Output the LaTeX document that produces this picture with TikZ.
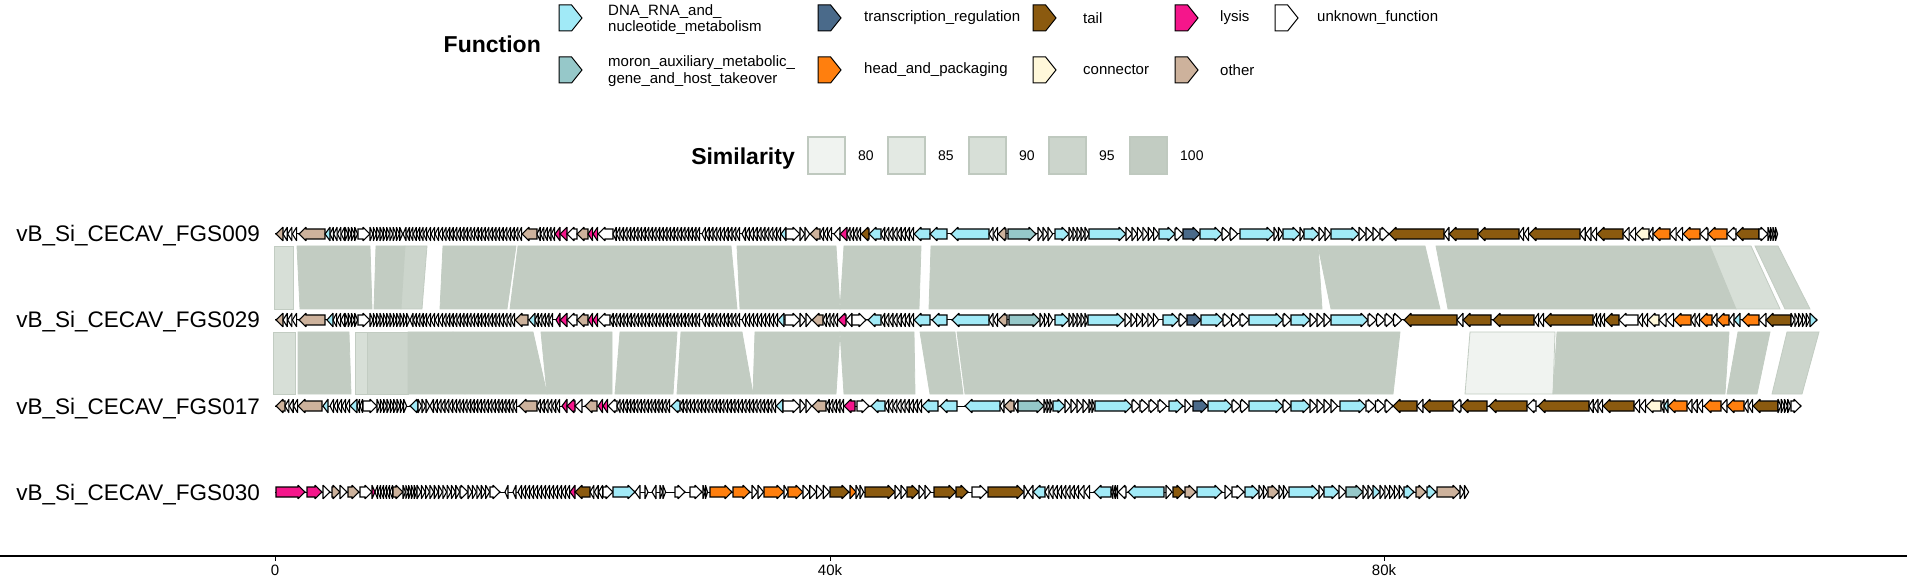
\documentclass[tikz,border=0pt]{standalone}
\usepackage{fontspec}
\setmainfont{Liberation Sans}
\definecolor{gD}{HTML}{A1EAF7}
\definecolor{gM}{HTML}{96C8C9}
\definecolor{gT}{HTML}{4A6A8A}
\definecolor{gH}{HTML}{FF7F0E}
\definecolor{gL}{HTML}{8B5A0F}
\definecolor{gC}{HTML}{FFF8DA}
\definecolor{gY}{HTML}{F5168B}
\definecolor{gO}{HTML}{CDB29C}
\definecolor{gU}{HTML}{FFFFFF}
\definecolor{s100}{HTML}{C2CCC2}
\definecolor{s95}{HTML}{CCD5CC}
\definecolor{s90}{HTML}{D7DFD7}
\definecolor{s85}{HTML}{E3E9E3}
\definecolor{s80}{HTML}{F0F3F0}
\definecolor{sB}{HTML}{BFC9BF}
\tikzset{
  gene/.style={draw=black,line width=1.1pt,line join=miter,miter limit=2.5},
  band/.style={draw=s100,line width=0.8pt},
  lgkey/.style={draw=black,line width=1pt},
  lgtxt/.style={anchor=west,font=\fontsize{15}{16.5}\selectfont,align=left,inner sep=0pt},
  title/.style={anchor=base east,font=\fontsize{23}{23}\selectfont\bfseries,inner sep=0pt},
  glabel/.style={anchor=base east,font=\fontsize{22.5}{22.5}\selectfont,inner sep=0pt},
  axlab/.style={font=\fontsize{15}{15}\selectfont,inner sep=0pt},
  simbox/.style={draw=sB,line width=1.5pt},
  backbone/.style={draw=black,line width=1pt}
}
\newcommand\ghl{7}
\newcommand\gbh{5}
\newcommand\gah{6.8}
\newcommand\gn[5]{%
  \pgfmathsetmacro\gA{#1}\pgfmathsetmacro\gB{#2}%
  \pgfmathsetmacro\gH{min(\ghl,\gB-\gA)}%
  \pgfmathsetmacro\gP{\gB-\gH}\pgfmathsetmacro\gQ{\gA+\gH}%
  \ifnum#4>0
    \draw[gene,fill=#5] (\gA,#3-\gbh) -- (\gP,#3-\gbh) -- (\gP,#3-\gah) -- (\gB,#3) -- (\gP,#3+\gah) -- (\gP,#3+\gbh) -- (\gA,#3+\gbh) -- cycle;
  \else
    \draw[gene,fill=#5] (\gB,#3-\gbh) -- (\gQ,#3-\gbh) -- (\gQ,#3-\gah) -- (\gA,#3) -- (\gQ,#3+\gah) -- (\gQ,#3+\gbh) -- (\gB,#3+\gbh) -- cycle;
  \fi}
\newcommand\grun[6]{%
  \pgfmathsetmacro\rw{(#2-#1)/#3}%
  \foreach \ri in {1,...,#3}{%
    \pgfmathsetmacro\ra{#1+(\ri-1)*\rw}%
    \pgfmathsetmacro\rb{\ra+\rw-0.4*(#3>1)}%
    \gn{\ra}{\rb}{#6}{#4}{#5}}}
\newcommand\track[2]{%
  \foreach \xa/\xb/\dd/\cc/\nn in {#2}{\grun{\xa}{\xb}{\nn}{\dd}{g\cc}{#1}}}
\newcommand\bands[3]{%
  \foreach \ta/\tb/\ba/\bb/\sc in {#3}{%
    \filldraw[band,fill=\sc] (\ta,#1) -- (\tb,#1) -- (\bb,#2) -- (\ba,#2) -- cycle;}}
\newcommand\lkey[3]{%
  \draw[lgkey,fill=#3] (#1,#2-13) -- (#1+12.6,#2-13) -- (#1+23,#2) -- (#1+12.6,#2+13) -- (#1,#2+13) -- cycle;}
\begin{document}
\begin{tikzpicture}[x=1pt,y=-1pt]
\useasboundingbox (0,0) rectangle (1907,577);
% ---------------- Function legend
\node[title] (fn) at (541,53) {Function};
\lkey{559}{18}{gD}
\node[lgtxt] (l1) at (608,19.5) {DNA\_RNA\_and\_\\nucleotide\_metabolism};
\lkey{559}{70}{gM}
\node[lgtxt] (l2) at (608,71) {moron\_auxiliary\_metabolic\_\\gene\_and\_host\_takeover};
\lkey{818}{18}{gT}
\node[lgtxt] (l3) at (864,18) {transcription\_regulation};
\lkey{818}{70}{gH}
\node[lgtxt] (l4) at (864,70) {head\_and\_packaging};
\lkey{1033}{18}{gL}
\node[lgtxt] (l5) at (1083,18) {tail};
\lkey{1033}{70}{gC}
\node[lgtxt] (l6) at (1083,70) {connector};
\lkey{1175}{18}{gY}
\node[lgtxt] (l7) at (1220,18) {lysis};
\lkey{1175}{70}{gO}
\node[lgtxt] (l8) at (1220,70) {other};
\lkey{1275}{18}{gU}
\node[lgtxt] (l9) at (1317,18) {unknown\_function};
% ---------------- Similarity legend
\node[title] (sim) at (795,165) {Similarity};
\foreach \bx/\sc/\lab in {808/s80/80,888/s85/85,969/s90/90,1049/s95/95,1130/s100/100}{
  \filldraw[simbox,fill=\sc] (\bx,137) rectangle (\bx+37,174);
  \node[anchor=west,font=\fontsize{14}{14}\selectfont,inner sep=0pt] (sl\lab) at (\bx+50,156) {\lab};}
% ---------------- similarity bands 1-2
\bands{246}{309}{274/293/274/293/s90,297/370/300/372/s100,376/405/374/401/s100,405/427/401/422/s95,
 443/516/440/507/s100,518/731/510/737/s100,737/836/740/840/s100,844/921/840/919/s100,
 931/1318/929/1322/s100,1318/1425/1331/1440/s100,1436/1710/1448/1736/s100,
 1710/1751/1736/1780/s90,1755/1778/1785/1810/s95}
% ---------------- similarity bands 2-3
\bands{332}{394}{273/295/273/295/s90,298/349/298/351/s100,355/367/355/367/s90,367/408/367/408/s95,
 408/453/408/465/s100,453/533/465/547/s100,541/612/547/612/s100,620/677/615/673/s100,
 681/742/677/753/s100,755/840/753/836/s100,840/914/844/915/s100,920/955/930/963/s100,
 957/1400/965/1393/s100,1470/1555/1465/1553/s80,1557/1729/1553/1725/s100,
 1738/1770/1727/1757/s100,1787/1819/1772/1802/s95}
% ---------------- genome labels
\node[glabel] (n1) at (260,242) {vB\_Si\_CECAV\_FGS009};
\node[glabel] (n2) at (260,328) {vB\_Si\_CECAV\_FGS029};
\node[glabel] (n3) at (260,414) {vB\_Si\_CECAV\_FGS017};
\node[glabel] (n4) at (260,500) {vB\_Si\_CECAV\_FGS030};
% ---------------- backbones
\draw[backbone] (275,234) -- (1778,234);
\draw[backbone] (275,320) -- (1817,320);
\draw[backbone] (275,406) -- (1801,406);
\draw[backbone] (275,492) -- (1469,492);
% ---------------- track 1
\track{234}{276/283/-1/O/1,283/297/-1/U/3,299/325/-1/O/1,325/330/-1/D/1,330/345/-1/U/4,345/358/1/U/4,
358/370/1/U/1,370/380/1/U/3,380/403/1/U/7,403/427/-1/U/7,427/443/-1/U/4,443/500/-1/U/16,500/522/-1/U/6,
522/537/-1/O/1,537/555/-1/U/5,555/560/-1/Y/1,560/567/-1/Y/1,567/577/-1/U/1,577/588/-1/O/1,588/598/-1/Y/2,
598/613/-1/U/1,613/700/-1/U/24,702/740/-1/U/10,742/781/-1/U/10,781/786/-1/D/1,786/800/1/U/1,800/810/1/U/2,
810/820/-1/O/1,820/832/-1/U/3,834/840/-1/U/1,840/847/-1/Y/1,847/861/-1/U/4,861/869/-1/L/1,869/881/-1/D/1,
881/914/-1/U/8,914/930/-1/D/1,930/947/-1/D/1,951/989/-1/D/1,989/998/-1/U/2,998/1006/-1/O/1,1008/1036/1/M/1,
1038/1053/1/U/3,1055/1069/1/D/1,1069/1085/1/U/4,1085/1089/1/U/1,1089/1126/1/D/1,1126/1132/1/U/1,
1132/1159/1/U/5,1159/1175/1/D/1,1175/1183/1/U/1,1183/1200/1/T/1,1200/1222/1/D/1,1222/1238/1/U/2,
1240/1274/1/D/1,1274/1283/1/U/2,1283/1300/1/D/1,1300/1304/1/U/1,1304/1319/1/D/1,1319/1331/1/U/2,
1331/1359/1/D/1,1359/1380/1/U/3,1380/1389/1/U/1,1389/1444/-1/L/1,1444/1449/-1/U/1,1449/1478/-1/L/1,
1478/1519/-1/L/1,1519/1529/-1/U/2,1529/1580/-1/L/1,1580/1597/-1/U/3,1597/1623/-1/L/1,1623/1636/-1/U/2,
1636/1649/-1/C/1,1649/1653/-1/U/1,1653/1670/-1/H/1,1670/1683/-1/U/2,1683/1700/-1/H/1,1700/1708/-1/U/1,
1708/1727/-1/H/1,1727/1736/-1/U/1,1736/1759/-1/L/1,1759/1768/1/U/1,1768/1778/1/U/4}
% ---------------- track 2
\track{320}{276/283/-1/O/1,283/297/-1/U/3,299/325/-1/O/1,327/333/-1/D/1,333/345/-1/U/3,345/358/1/U/4,
358/370/1/U/1,370/380/1/U/3,380/410/1/U/9,410/427/-1/U/5,427/443/-1/U/4,443/500/-1/U/16,500/515/-1/U/4,
515/528/-1/O/1,529/535/-1/D/1,535/553/-1/U/5,556/560/-1/Y/1,560/567/-1/Y/1,567/577/-1/U/1,577/588/-1/O/1,
588/598/-1/Y/2,598/610/-1/U/1,610/700/-1/U/25,702/740/-1/U/10,742/778/-1/U/9,778/784/-1/D/1,785/800/1/U/1,
800/812/1/U/2,812/823/-1/O/1,823/838/-1/U/4,838/846/-1/Y/1,846/852/-1/U/1,852/866/1/U/1,868/881/-1/D/1,
881/914/-1/U/8,914/930/-1/D/1,932/947/-1/D/1,952/989/-1/D/1,989/998/-1/U/2,998/1007/-1/O/1,1009/1040/1/M/1,
1040/1053/1/U/3,1055/1069/1/D/1,1069/1085/1/U/4,1085/1088/1/U/1,1088/1124/1/D/1,1125/1131/1/U/1,
1131/1159/1/U/5,1163/1179/1/D/1,1179/1187/1/U/1,1187/1201/1/T/1,1201/1223/1/D/1,1223/1240/1/U/2,
1240/1249/1/U/1,1249/1283/1/D/1,1283/1291/1/U/1,1291/1310/1/D/1,1310/1331/1/U/3,1331/1368/1/D/1,
1368/1402/1/U/4,1404/1457/-1/L/1,1457/1463/-1/U/1,1463/1491/-1/L/1,1493/1534/-1/L/1,1534/1544/-1/U/2,
1544/1593/-1/L/1,1593/1605/-1/U/3,1605/1619/-1/L/1,1619/1638/-1/U/1,1638/1648/-1/U/2,1648/1659/-1/C/1,
1659/1674/-1/U/2,1674/1691/-1/H/1,1691/1700/-1/U/2,1700/1712/-1/H/1,1712/1717/-1/U/1,1717/1729/-1/H/1,
1729/1734/-1/U/1,1734/1740/-1/D/1,1742/1759/-1/H/1,1759/1766/-1/U/1,1766/1791/-1/L/1,1791/1810/1/U/5,
1810/1817/1/D/1}
% ---------------- track 3
\track{406}{276/285/-1/O/1,285/298/-1/U/3,298/322/-1/O/1,323/328/-1/D/1,330/350/-1/U/5,350/357/-1/D/1,
357/363/-1/U/2,363/377/1/U/1,377/407/1/U/9,410/418/-1/D/1,418/430/1/U/3,430/457/-1/U/7,457/517/-1/U/17,
519/537/-1/O/1,537/560/-1/U/6,562/567/-1/Y/1,567/575/-1/Y/1,575/582/-1/U/1,585/597/-1/O/1,598/608/-1/Y/2,
608/617/-1/U/1,617/670/-1/U/15,671/680/-1/D/1,680/776/-1/U/26,776/783/-1/D/1,783/800/1/U/1,800/812/1/U/2,
812/826/-1/O/1,826/844/-1/U/5,844/855/-1/Y/1,857/869/1/U/1,871/885/-1/D/1,885/922/-1/U/9,922/938/-1/D/1,
940/957/-1/D/1,965/1000/-1/D/1,1000/1004/-1/U/1,1004/1014/-1/O/1,1014/1018/-1/U/1,1018/1044/1/M/1,
1044/1053/1/U/3,1053/1065/1/D/1,1065/1089/1/U/4,1089/1095/1/U/2,1095/1132/1/D/1,1132/1140/1/U/1,
1140/1167/1/U/3,1169/1183/1/D/1,1185/1191/1/U/1,1193/1208/1/T/1,1208/1232/1/D/1,1232/1249/1/U/2,
1249/1283/1/D/1,1283/1291/1/U/1,1291/1310/1/D/1,1310/1338/1/U/4,1340/1366/1/D/1,1366/1385/1/U/2,
1385/1393/1/U/1,1393/1417/-1/L/1,1417/1423/-1/U/1,1423/1453/-1/L/1,1453/1461/-1/U/1,1461/1487/-1/L/1,
1489/1527/-1/L/1,1527/1536/-1/U/1,1538/1589/-1/L/1,1589/1603/-1/U/3,1603/1634/-1/L/1,1634/1646/-1/U/2,
1646/1661/-1/C/1,1661/1664/-1/U/1,1664/1668/-1/D/1,1668/1687/-1/H/1,1687/1703/-1/U/3,1704/1721/-1/H/1,
1721/1727/-1/U/1,1727/1744/-1/H/1,1744/1753/-1/U/2,1753/1778/-1/L/1,1778/1791/1/U/4,1791/1801/1/U/1}
% ---------------- track 4
\track{492}{276/305/1/Y/1,307/322/1/Y/1,323/330/1/U/1,332/340/1/O/1,340/347/1/U/1,348/359/1/O/1,
360/372/1/U/1,372/375/1/Y/1,375/393/-1/U/6,393/403/1/O/1,403/417/1/U/5,417/460/1/U/10,460/468/1/U/1,
468/490/1/U/5,490/500/1/U/1,505/508/-1/U/1,513/516/-1/U/1,518/570/-1/U/13,570/575/-1/Y/1,575/590/-1/L/1,
590/603/-1/U/3,603/613/1/U/1,613/635/1/D/1,635/640/-1/U/1,645/648/1/U/1,652/656/-1/U/1,660/666/1/U/2,
675/685/1/U/1,690/702/1/U/1,703/708/1/U/2,710/732/1/H/1,733/750/1/H/1,752/764/1/U/2,764/784/1/H/1,
784/788/1/U/1,788/803/1/H/1,803/830/1/U/4,830/849/1/L/1,850/856/1/H/1,856/864/1/U/2,865/895/1/L/1,
895/907/1/U/2,907/919/1/L/1,919/931/1/U/2,934/956/1/L/1,956/968/1/L/1,972/987/1/U/1,988/1024/1/L/1,
1024/1028/1/U/1,1028/1033/-1/U/1,1033/1045/-1/D/1,1045/1079/-1/U/8,1079/1090/-1/U/2,1094/1111/-1/D/1,
1111/1118/-1/U/3,1118/1126/-1/U/1,1128/1164/-1/D/1,1166/1172/1/U/1,1173/1184/1/L/1,1185/1196/1/O/1,
1197/1222/1/D/1,1225/1232/1/U/1,1232/1244/1/U/1,1245/1259/1/D/1,1259/1268/1/U/2,1268/1279/1/O/1,
1279/1288/1/U/2,1289/1319/1/D/1,1319/1324/1/U/1,1324/1339/1/D/1,1339/1346/1/U/1,1346/1363/1/M/1,
1363/1373/1/U/2,1373/1380/1/D/1,1380/1404/1/U/5,1404/1414/1/D/1,1416/1426/1/O/1,1427/1436/1/D/1,
1437/1460/1/O/1,1460/1469/1/U/2}
% ---------------- axis
\draw[line width=1.5pt] (0,556) -- (1907,556);
\foreach \tx/\tl/\tn in {275/0/t0,830/40k/t40,1384/80k/t80}{
  \draw[line width=0.8pt] (\tx,556) -- (\tx,561);
  \node[axlab] (\tn) at (\tx,570) {\tl};}
\end{tikzpicture}
\end{document}
